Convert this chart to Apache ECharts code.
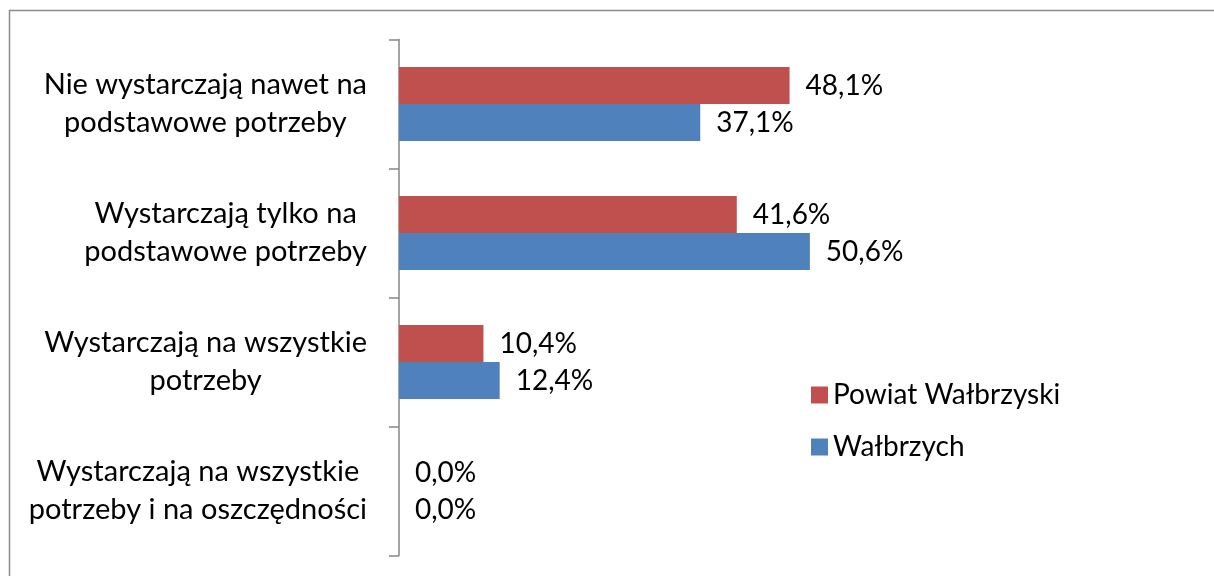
<!DOCTYPE html>
<html>
<head>
<meta charset="utf-8">
<script src="https://cdn.jsdelivr.net/npm/echarts@6/dist/echarts.min.js"></script>
<style>
  html, body { margin: 0; padding: 0; background: #fff; }
  #chart { width: 1214px; height: 576px; }
</style>
</head>
<body>
<div id="chart"></div>
<script>
// Categories (top to bottom), each split into display lines
const categories = [
  'Nie wystarczają nawet na\npodstawowe potrzeby',
  'Wystarczają tylko na\npodstawowe potrzeby',
  'Wystarczają na wszystkie\npotrzeby',
  'Wystarczają na wszystkie\npotrzeby i na oszczędności'
];
const seriesNames = ['Powiat Wałbrzyski', 'Wałbrzych'];
const powiatValues = [48.1, 41.6, 10.4, 0.0];
const walbrzychValues = [37.1, 50.6, 12.4, 0.0];

const FONT = 'Lato';
const TEXT_SIZE = 28;
const CAT_SIZE = 29;
const fmtPct = v => v.toFixed(1).replace('.', ',') + '%';

const chart = echarts.init(document.getElementById('chart'), null, { renderer: 'canvas' });

const valueLabel = {
  show: true,
  position: 'right',
  distance: 16,
  fontFamily: FONT,
  fontSize: TEXT_SIZE,
  color: '#000',
  formatter: p => fmtPct(p.value)
};

chart.setOption({
  animation: false,
  backgroundColor: '#fff',
  textStyle: { fontFamily: FONT },
  graphic: [{
    type: 'rect',
    shape: { x: 9.5, y: 10.5, width: 1400, height: 800 },
    style: { fill: 'none', stroke: '#8c8c8c', lineWidth: 1.5 },
    silent: true,
    z: -1
  }],
  legend: {
    orient: 'vertical',
    left: 806,
    top: 376,
    itemWidth: 17,
    itemHeight: 17,
    itemGap: 24,
    icon: 'rect',
    data: seriesNames,
    textStyle: { fontFamily: FONT, fontSize: TEXT_SIZE, color: '#000' }
  },
  grid: { left: 399, top: 39.5, width: 812, height: 516, containLabel: false },
  xAxis: {
    type: 'value',
    min: 0,
    max: 100,
    show: false
  },
  yAxis: {
    type: 'category',
    inverse: true,
    data: categories,
    axisLine: { show: true, lineStyle: { color: '#868686', width: 1.5 } },
    axisTick: { show: true, length: 10, lineStyle: { color: '#868686', width: 1.5 } },
    splitLine: { show: false },
    axisLabel: {
      margin: 32,
      align: 'right',
      fontFamily: FONT,
      fontSize: CAT_SIZE,
      color: '#000',
      lineHeight: 38,
      formatter: v => v.split('\n').map(l => '{c|' + l + '}').join('\n'),
      rich: { c: { align: 'center', fontFamily: FONT, fontSize: CAT_SIZE, color: '#000', lineHeight: 38 } }
    }
  },
  series: [
    {
      name: seriesNames[0],
      type: 'bar',
      data: powiatValues,
      barWidth: 37,
      barGap: '0%',
      itemStyle: { color: '#C0504D' },
      label: valueLabel
    },
    {
      name: seriesNames[1],
      type: 'bar',
      data: walbrzychValues,
      barWidth: 37,
      barGap: '0%',
      itemStyle: { color: '#4F81BD' },
      label: valueLabel
    }
  ]
});
</script>
</body>
</html>
